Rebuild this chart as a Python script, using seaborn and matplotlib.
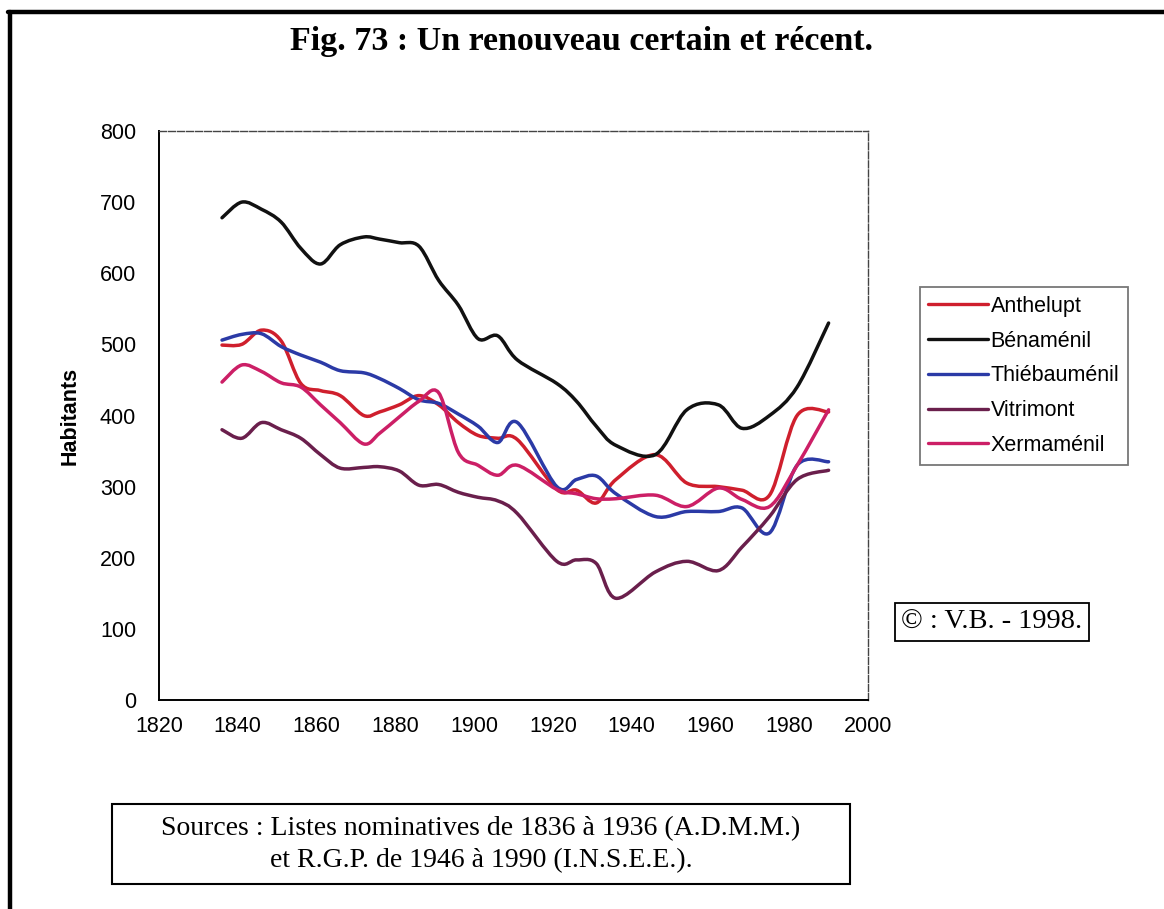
import numpy as np
import pandas as pd
import seaborn as sns
import matplotlib
matplotlib.use("Agg")
import matplotlib.pyplot as plt
from matplotlib.path import Path
from matplotlib.patches import PathPatch, Rectangle
from matplotlib.lines import Line2D

# Census years (listes nominatives 1836-1936, RGP 1946-1990)
years = [1836, 1841, 1846, 1851, 1856, 1861, 1866, 1872, 1876, 1881, 1886,
         1891, 1896, 1901, 1906, 1911, 1921, 1926, 1931, 1936, 1946, 1954,
         1962, 1968, 1975, 1982, 1990]

anthelupt = [499, 500, 520, 505, 445, 435, 428, 400, 405, 415, 428,
             415, 390, 372, 368, 366, 296, 295, 277, 310, 345, 305,
             300, 295, 288, 400, 405]
benamenil = [678, 700, 690, 672, 635, 613, 640, 651, 648, 643, 638,
             590, 555, 508, 512, 478, 445, 420, 385, 358, 345, 408,
             415, 382, 400, 440, 530]
thiebaumenil = [506, 514, 515, 497, 485, 475, 463, 460, 452, 438, 422,
                417, 402, 385, 362, 390, 300, 310, 315, 290, 258, 265,
                265, 270, 235, 330, 335]
vitrimont = [380, 368, 390, 380, 368, 345, 326, 327, 328, 322, 302,
             303, 292, 285, 280, 262, 195, 197, 192, 143, 180, 195,
             182, 215, 258, 310, 323]
xermamenil = [447, 471, 462, 446, 440, 415, 390, 360, 375, 398, 420,
              432, 348, 330, 316, 330, 296, 290, 283, 283, 288, 272,
              298, 282, 272, 330, 408]

communes = ["Anthelupt", "Bénaménil", "Thiébauménil", "Vitrimont", "Xermaménil"]
colors = ["#cf1f2d", "#111111", "#2b3aa6", "#6a1f4c", "#cc1f66"]

x_ticks = [1820, 1840, 1860, 1880, 1900, 1920, 1940, 1960, 1980, 2000]
y_ticks = [0, 100, 200, 300, 400, 500, 600, 700, 800]

df = pd.DataFrame({"Année": years, "Anthelupt": anthelupt, "Bénaménil": benamenil,
                   "Thiébauménil": thiebaumenil, "Vitrimont": vitrimont,
                   "Xermaménil": xermamenil})
long = df.melt(id_vars="Année", var_name="Commune", value_name="Habitants")

sns.set_style("white")
plt.rcParams["font.family"] = ["Liberation Sans", "DejaVu Sans"]
plt.rcParams["text.color"] = "black"
plt.rcParams["axes.labelcolor"] = "black"

fig = plt.figure(figsize=(11.64, 9.09), dpi=100)
ax = fig.add_axes([0.1366, 0.2299, 0.6091, 0.6260])

sns.lineplot(data=long, x="Année", y="Habitants", hue="Commune",
             hue_order=communes, palette=colors, linewidth=2.4,
             legend=False, ax=ax)


def smooth_path(xs, ys):
    """Cubic Bezier path through the points (spreadsheet-style smoothed line)."""
    pts = np.column_stack([xs, ys]).astype(float)
    n = len(pts)
    verts = [pts[0]]
    codes = [Path.MOVETO]
    for i in range(n - 1):
        p0 = pts[i - 1] if i > 0 else pts[i]
        p1 = pts[i]
        p2 = pts[i + 1]
        p3 = pts[i + 2] if i + 2 < n else pts[i + 1]
        c1 = p1 + (p2 - p0) / 6.0
        c2 = p2 - (p3 - p1) / 6.0
        verts += [c1, c2, p2]
        codes += [Path.CURVE4] * 3
    return Path(verts, codes)


# Redraw each seaborn line as a smoothed curve in the same colour
for line in list(ax.lines):
    xd, yd = line.get_xdata(), line.get_ydata()
    patch = PathPatch(smooth_path(xd, yd), facecolor="none",
                      edgecolor=line.get_color(), linewidth=2.5,
                      capstyle="round", joinstyle="round", zorder=3)
    ax.add_patch(patch)
    line.set_visible(False)

ax.set_xlim(1820, 2000)
ax.set_ylim(0, 800)
ax.set_xticks(x_ticks)
ax.set_yticks(y_ticks)
ax.tick_params(axis="both", direction="inout", length=9, width=1.2,
               colors="black", labelsize=15.5, pad=7)
ax.tick_params(axis="y", pad=12)
ax.set_xlabel("")
ax.set_ylabel("Habitants", fontsize=15.5, fontweight="bold", labelpad=14)

for side in ["left", "bottom"]:
    ax.spines[side].set_color("black")
    ax.spines[side].set_linewidth(1.4)
for side in ["top", "right"]:
    ax.spines[side].set_color("#444444")
    ax.spines[side].set_linewidth(1.0)
    ax.spines[side].set_linestyle((0, (5, 1.5)))

# Legend box
handles = [Line2D([], [], color=c, linewidth=2.4) for c in colors]
leg = fig.legend(handles, communes, loc="upper left",
                 bbox_to_anchor=(0.790, 0.684), fontsize=15.5,
                 frameon=True, fancybox=False, edgecolor="#555555",
                 handlelength=2.8, handletextpad=0.1, labelspacing=0.64,
                 borderpad=0.4, borderaxespad=0)
leg.get_frame().set_linewidth(1.3)

serif = ["Liberation Serif", "DejaVu Serif"]

fig.text(0.5, 0.954, "Fig. 73 : Un renouveau certain et récent.",
         ha="center", va="center", fontsize=24.5, fontweight="bold",
         family=serif)

# Copyright box
fig.text(992 / 1164, 1 - 622 / 909, "© : V.B. - 1998.", ha="center",
         va="center", fontsize=20.5, family=serif,
         bbox=dict(boxstyle="square,pad=0.22", facecolor="white",
                   edgecolor="black", linewidth=1.3))

# Sources box
fig.patches.append(Rectangle((112 / 1164, 1 - 884 / 909), 738 / 1164, 80 / 909,
                             transform=fig.transFigure, facecolor="white",
                             edgecolor="black", linewidth=1.5))
fig.text(481 / 1164, 1 - 829 / 909,
         "Sources : Listes nominatives de 1836 à 1936 (A.D.M.M.)",
         ha="center", va="center", fontsize=20, family=serif)
fig.text(481 / 1164, 1 - 861 / 909,
         "et R.G.P. de 1946 à 1990 (I.N.S.E.E.).",
         ha="center", va="center", fontsize=20, family=serif)

# Page frame (left and top rules)
fig.add_artist(Line2D([10 / 1164, 10 / 1164], [0, 1 - 12 / 909],
                      transform=fig.transFigure, color="black", linewidth=3.2))
fig.add_artist(Line2D([8 / 1164, 1], [1 - 12 / 909, 1 - 12 / 909],
                      transform=fig.transFigure, color="black", linewidth=3.2))

fig.savefig("out.png", dpi=100, facecolor="white")
